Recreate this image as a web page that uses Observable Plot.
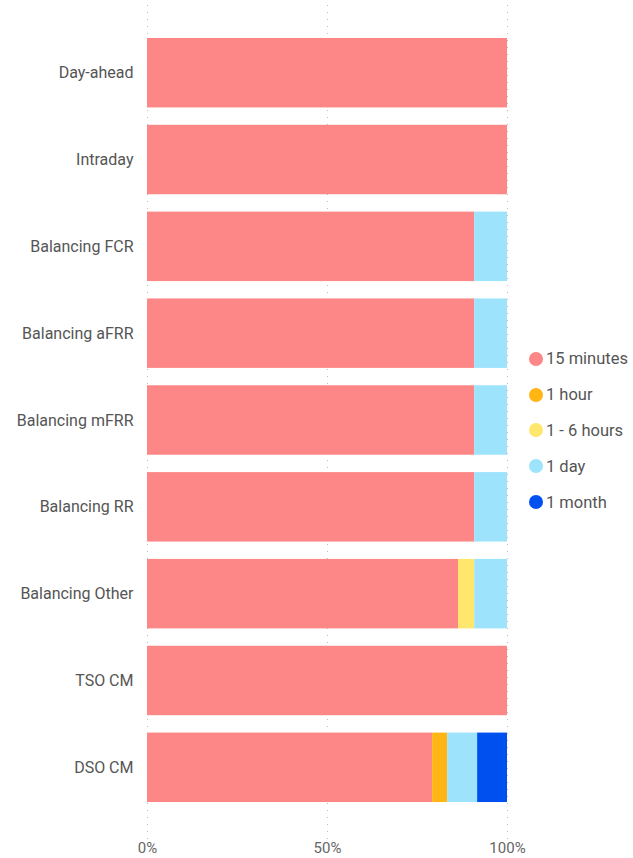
<!DOCTYPE html>
<html>
<head>
<meta charset="utf-8">
<script src="https://cdn.jsdelivr.net/npm/d3@7"></script>
<script src="https://cdn.jsdelivr.net/npm/@observablehq/plot@0.6"></script>
<style>
  html, body { margin: 0; padding: 0; background: #fff; }
  #wrap { position: relative; width: 633px; height: 858px; font-family: Roboto, "Noto Sans", sans-serif; }
  #legend { position: absolute; left: 529px; top: 341px; }
  .item { display: flex; align-items: center; height: 35.8px; font-size: 16.5px; color: #555; }
  .item .dot { width: 14px; height: 14px; border-radius: 50%; margin-right: 3px; }
</style>
</head>
<body>
<div id="wrap"><div id="chart"></div><div id="legend"></div></div>
<script>
const categories = ["Day-ahead", "Intraday", "Balancing FCR", "Balancing aFRR", "Balancing mFRR", "Balancing RR", "Balancing Other", "TSO CM", "DSO CM"];
const seriesNames = ["15 minutes", "1 hour", "1 - 6 hours", "1 day", "1 month"];
const colors = ["#FD8686", "#FFB514", "#FFE66D", "#9CE3FB", "#0050F0"];
const min15   = [100, 100, 90.9, 90.9, 90.9, 90.9, 86.4, 100, 79.2];
const hour1   = [0, 0, 0, 0, 0, 0, 0, 0, 4.2];
const hours16 = [0, 0, 0, 0, 0, 0, 4.5, 0, 0];
const day1    = [0, 0, 9.1, 9.1, 9.1, 9.1, 9.1, 0, 8.3];
const month1  = [0, 0, 0, 0, 0, 0, 0, 0, 8.3];
const xTicks = [0, 50, 100];

const seriesValues = [min15, hour1, hours16, day1, month1];
const rows = [];
categories.forEach((c, i) => {
  seriesNames.forEach((s, j) => {
    if (seriesValues[j][i] > 0) rows.push({cat: c, series: s, value: seriesValues[j][i]});
  });
});

const chart = Plot.plot({
  width: 633,
  height: 858,
  marginLeft: 147,
  marginRight: 126,
  marginTop: 5,
  marginBottom: 18,
  style: {fontFamily: 'Roboto, "Noto Sans", sans-serif', color: "#555", background: "#fff"},
  x: {domain: [0, 100], axis: null},
  y: {domain: categories, range: [20.6, 819.4], padding: 0.2, round: false, axis: null},
  color: {domain: seriesNames, range: colors},
  marks: [
    Plot.ruleX(xTicks, {stroke: "#bbb", strokeDasharray: "1,6"}),
    Plot.barX(rows, Plot.stackX({x: "value", y: "cat", fill: "series", order: seriesNames})),
    Plot.axisY({tickSize: 0, tickPadding: 14, fontSize: 16, label: null}),
    Plot.axisX({ticks: xTicks, tickSize: 0, tickPadding: 2, fontSize: 15, fill: "#666", label: null, tickFormat: d => d + "%"})
  ]
});
document.getElementById("chart").appendChild(chart);

const legend = document.getElementById("legend");
seriesNames.forEach((s, j) => {
  const item = document.createElement("div");
  item.className = "item";
  const dot = document.createElement("span");
  dot.className = "dot";
  dot.style.background = colors[j];
  const label = document.createElement("span");
  label.textContent = s;
  item.appendChild(dot);
  item.appendChild(label);
  legend.appendChild(item);
});
</script>
</body>
</html>
